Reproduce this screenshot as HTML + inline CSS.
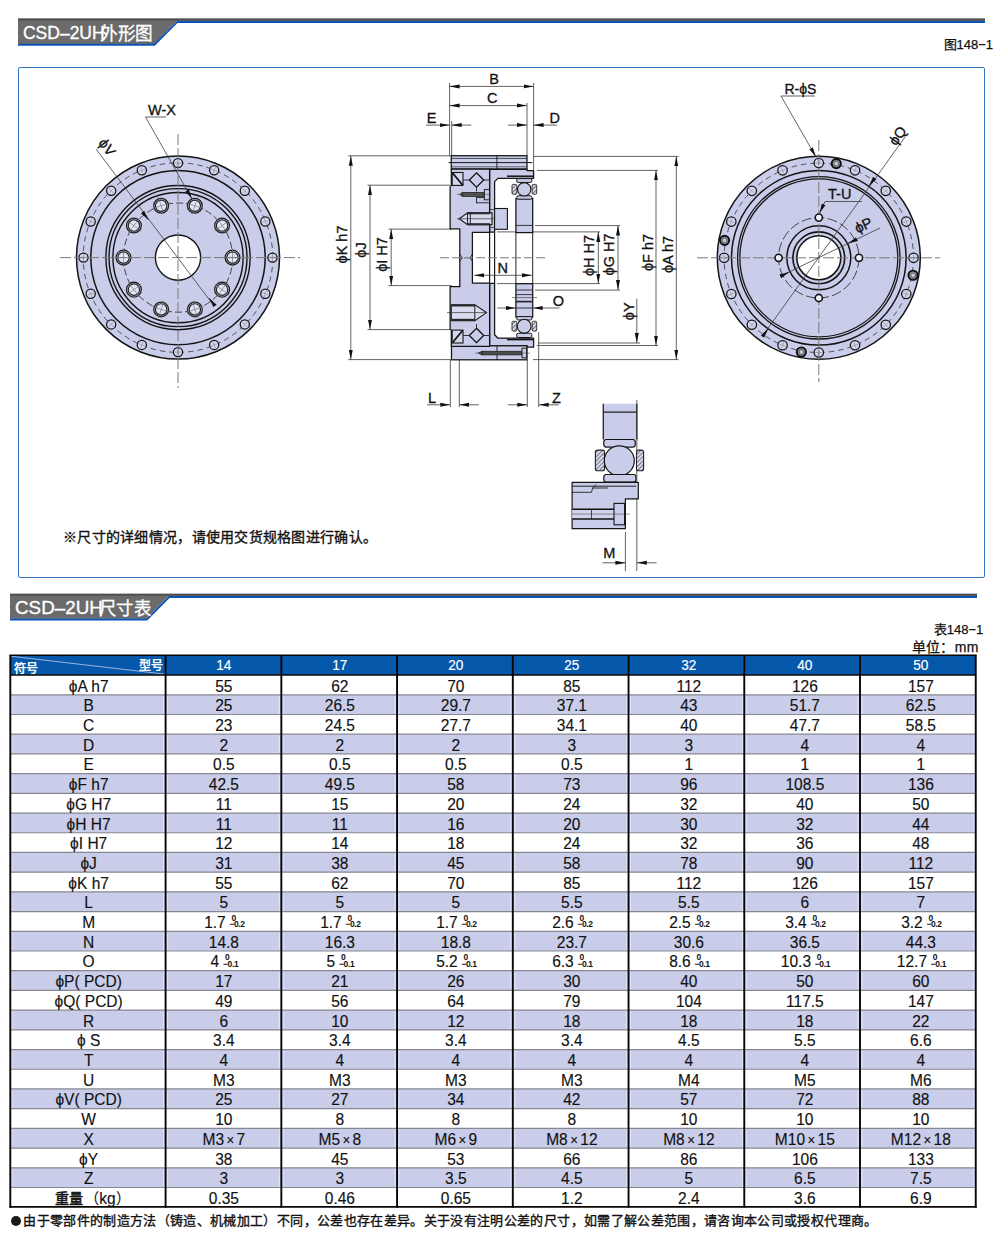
<!DOCTYPE html>
<html lang="zh-CN"><head><meta charset="utf-8"><style>
*{margin:0;padding:0;box-sizing:border-box}
html,body{width:1000px;height:1247px;background:#fff;overflow:hidden}
body{position:relative;font-family:"Liberation Sans",sans-serif;color:#111}
.abs{position:absolute}
.hd{position:absolute;color:#fff;font-size:19px;white-space:nowrap;line-height:1}
.cap{position:absolute;font-size:13px;white-space:nowrap;line-height:1;color:#111;-webkit-text-stroke:0.25px #111}
.tb{position:absolute;left:10px;top:655px;width:967px}
.c{position:absolute;text-align:center;font-size:16.5px;line-height:1;white-space:nowrap;-webkit-text-stroke:0.15px #111;transform:scaleX(0.94);transform-origin:50% 50%}
.tol{display:inline-block;position:relative;width:15px;height:12px;margin-left:4px;vertical-align:baseline}
.tol b{position:absolute;font-size:9px;font-weight:bold;line-height:1;letter-spacing:-0.4px;-webkit-text-stroke:0}
.sup{position:absolute;font-size:8px;font-weight:bold;line-height:1}
</style></head><body>

<svg class="abs" style="left:0;top:0" width="1000" height="1247" viewBox="0 0 1000 1247">
<polygon points="18,18.6 985,18.6 985,20.900000000000002 176.5,20.900000000000002 154,44.0 18,44.0" fill="#6b6b6b"/>
<rect x="18" y="18.6" width="967" height="1.8" fill="#4f4d4d"/>
<polyline points="18,44.8 154.4,44.8 177.2,21.900000000000002 985,21.900000000000002" fill="none" stroke="#0b54b4" stroke-width="2"/>
</svg>
<div class="hd" style="left:22.8px;top:22.9px;transform:scaleX(0.92);transform-origin:0 0;-webkit-text-stroke:0.35px #fff">CSD–2UH</div>
<div class="hd" style="left:99.6px;top:25.3px;font-size:18px;letter-spacing:0;transform:scaleX(0.98);transform-origin:0 0;-webkit-text-stroke:0.3px #fff">外形图</div>
<svg class="abs" style="left:0;top:0" width="1000" height="1247" viewBox="0 0 1000 1247">
<polygon points="10,593.8 977,593.8 977,596.0999999999999 168.4,596.0999999999999 146.4,618.8 10,618.8" fill="#6b6b6b"/>
<rect x="10" y="593.8" width="967" height="1.8" fill="#4f4d4d"/>
<polyline points="10,619.5999999999999 146.8,619.5999999999999 169.1,597.0999999999999 977,597.0999999999999" fill="none" stroke="#0b54b4" stroke-width="2"/>
</svg>
<div class="hd" style="left:14.6px;top:597.8px;transform:scaleX(0.99);transform-origin:0 0;-webkit-text-stroke:0.35px #fff">CSD–2UH</div>
<div class="hd" style="left:98.8px;top:600.1px;font-size:18px;letter-spacing:0;transform:scaleX(0.965);transform-origin:0 0;-webkit-text-stroke:0.3px #fff">尺寸表</div>
<div class="cap" style="left:943.5px;top:38.3px">图148−1</div>
<div class="cap" style="left:933.8px;top:623px">表148−1</div>
<div class="cap" style="left:911.5px;top:639.5px;font-size:14px;letter-spacing:0.4px">单位：mm</div>
<div class="abs" style="left:18px;top:66.8px;width:967.3px;height:511.5px;border:1.75px solid #3376c8;border-radius:2px"></div>
<div class="abs" style="left:63px;top:530.2px;font-size:14px;letter-spacing:0.28px;-webkit-text-stroke:0.35px #111;white-space:nowrap;line-height:1">※尺寸的详细情况，请使用交货规格图进行确认。</div>
<svg class="abs" style="left:0;top:0" width="1000" height="1247" viewBox="0 0 1000 1247">
<rect x="10.3" y="655.3" width="965.45" height="19.600000000000023" fill="#0558aa"/>
<line x1="11.3" y1="656.3" x2="165.6" y2="674.3" stroke="#9fb3dd" stroke-width="1.1"/>
<rect x="10.3" y="694.81" width="965.45" height="19.71" fill="#c9cde9"/>
<rect x="10.3" y="734.22" width="965.45" height="19.71" fill="#c9cde9"/>
<rect x="10.3" y="773.64" width="965.45" height="19.71" fill="#c9cde9"/>
<rect x="10.3" y="813.06" width="965.45" height="19.71" fill="#c9cde9"/>
<rect x="10.3" y="852.47" width="965.45" height="19.71" fill="#c9cde9"/>
<rect x="10.3" y="891.89" width="965.45" height="19.71" fill="#c9cde9"/>
<rect x="10.3" y="931.30" width="965.45" height="19.71" fill="#c9cde9"/>
<rect x="10.3" y="970.72" width="965.45" height="19.71" fill="#c9cde9"/>
<rect x="10.3" y="1010.14" width="965.45" height="19.71" fill="#c9cde9"/>
<rect x="10.3" y="1049.55" width="965.45" height="19.71" fill="#c9cde9"/>
<rect x="10.3" y="1088.97" width="965.45" height="19.71" fill="#c9cde9"/>
<rect x="10.3" y="1128.38" width="965.45" height="19.71" fill="#c9cde9"/>
<rect x="10.3" y="1167.80" width="965.45" height="19.71" fill="#c9cde9"/>
<path d="M12.20,695.41V713.92M163.70,695.41V713.92M167.50,695.41V713.92M279.44,695.41V713.92M283.23,695.41V713.92M395.17,695.41V713.92M398.97,695.41V713.92M510.90,695.41V713.92M514.70,695.41V713.92M626.64,695.41V713.92M630.44,695.41V713.92M742.38,695.41V713.92M746.17,695.41V713.92M858.11,695.41V713.92M861.91,695.41V713.92M973.85,695.41V713.92M12.20,734.82V753.33M163.70,734.82V753.33M167.50,734.82V753.33M279.44,734.82V753.33M283.23,734.82V753.33M395.17,734.82V753.33M398.97,734.82V753.33M510.90,734.82V753.33M514.70,734.82V753.33M626.64,734.82V753.33M630.44,734.82V753.33M742.38,734.82V753.33M746.17,734.82V753.33M858.11,734.82V753.33M861.91,734.82V753.33M973.85,734.82V753.33M12.20,774.24V792.75M163.70,774.24V792.75M167.50,774.24V792.75M279.44,774.24V792.75M283.23,774.24V792.75M395.17,774.24V792.75M398.97,774.24V792.75M510.90,774.24V792.75M514.70,774.24V792.75M626.64,774.24V792.75M630.44,774.24V792.75M742.38,774.24V792.75M746.17,774.24V792.75M858.11,774.24V792.75M861.91,774.24V792.75M973.85,774.24V792.75M12.20,813.66V832.16M163.70,813.66V832.16M167.50,813.66V832.16M279.44,813.66V832.16M283.23,813.66V832.16M395.17,813.66V832.16M398.97,813.66V832.16M510.90,813.66V832.16M514.70,813.66V832.16M626.64,813.66V832.16M630.44,813.66V832.16M742.38,813.66V832.16M746.17,813.66V832.16M858.11,813.66V832.16M861.91,813.66V832.16M973.85,813.66V832.16M12.20,853.07V871.58M163.70,853.07V871.58M167.50,853.07V871.58M279.44,853.07V871.58M283.23,853.07V871.58M395.17,853.07V871.58M398.97,853.07V871.58M510.90,853.07V871.58M514.70,853.07V871.58M626.64,853.07V871.58M630.44,853.07V871.58M742.38,853.07V871.58M746.17,853.07V871.58M858.11,853.07V871.58M861.91,853.07V871.58M973.85,853.07V871.58M12.20,892.49V911.00M163.70,892.49V911.00M167.50,892.49V911.00M279.44,892.49V911.00M283.23,892.49V911.00M395.17,892.49V911.00M398.97,892.49V911.00M510.90,892.49V911.00M514.70,892.49V911.00M626.64,892.49V911.00M630.44,892.49V911.00M742.38,892.49V911.00M746.17,892.49V911.00M858.11,892.49V911.00M861.91,892.49V911.00M973.85,892.49V911.00M12.20,931.90V950.41M163.70,931.90V950.41M167.50,931.90V950.41M279.44,931.90V950.41M283.23,931.90V950.41M395.17,931.90V950.41M398.97,931.90V950.41M510.90,931.90V950.41M514.70,931.90V950.41M626.64,931.90V950.41M630.44,931.90V950.41M742.38,931.90V950.41M746.17,931.90V950.41M858.11,931.90V950.41M861.91,931.90V950.41M973.85,931.90V950.41M12.20,971.32V989.83M163.70,971.32V989.83M167.50,971.32V989.83M279.44,971.32V989.83M283.23,971.32V989.83M395.17,971.32V989.83M398.97,971.32V989.83M510.90,971.32V989.83M514.70,971.32V989.83M626.64,971.32V989.83M630.44,971.32V989.83M742.38,971.32V989.83M746.17,971.32V989.83M858.11,971.32V989.83M861.91,971.32V989.83M973.85,971.32V989.83M12.20,1010.74V1029.24M163.70,1010.74V1029.24M167.50,1010.74V1029.24M279.44,1010.74V1029.24M283.23,1010.74V1029.24M395.17,1010.74V1029.24M398.97,1010.74V1029.24M510.90,1010.74V1029.24M514.70,1010.74V1029.24M626.64,1010.74V1029.24M630.44,1010.74V1029.24M742.38,1010.74V1029.24M746.17,1010.74V1029.24M858.11,1010.74V1029.24M861.91,1010.74V1029.24M973.85,1010.74V1029.24M12.20,1050.15V1068.66M163.70,1050.15V1068.66M167.50,1050.15V1068.66M279.44,1050.15V1068.66M283.23,1050.15V1068.66M395.17,1050.15V1068.66M398.97,1050.15V1068.66M510.90,1050.15V1068.66M514.70,1050.15V1068.66M626.64,1050.15V1068.66M630.44,1050.15V1068.66M742.38,1050.15V1068.66M746.17,1050.15V1068.66M858.11,1050.15V1068.66M861.91,1050.15V1068.66M973.85,1050.15V1068.66M12.20,1089.57V1108.08M163.70,1089.57V1108.08M167.50,1089.57V1108.08M279.44,1089.57V1108.08M283.23,1089.57V1108.08M395.17,1089.57V1108.08M398.97,1089.57V1108.08M510.90,1089.57V1108.08M514.70,1089.57V1108.08M626.64,1089.57V1108.08M630.44,1089.57V1108.08M742.38,1089.57V1108.08M746.17,1089.57V1108.08M858.11,1089.57V1108.08M861.91,1089.57V1108.08M973.85,1089.57V1108.08M12.20,1128.98V1147.49M163.70,1128.98V1147.49M167.50,1128.98V1147.49M279.44,1128.98V1147.49M283.23,1128.98V1147.49M395.17,1128.98V1147.49M398.97,1128.98V1147.49M510.90,1128.98V1147.49M514.70,1128.98V1147.49M626.64,1128.98V1147.49M630.44,1128.98V1147.49M742.38,1128.98V1147.49M746.17,1128.98V1147.49M858.11,1128.98V1147.49M861.91,1128.98V1147.49M973.85,1128.98V1147.49M12.20,1168.40V1186.91M163.70,1168.40V1186.91M167.50,1168.40V1186.91M279.44,1168.40V1186.91M283.23,1168.40V1186.91M395.17,1168.40V1186.91M398.97,1168.40V1186.91M510.90,1168.40V1186.91M514.70,1168.40V1186.91M626.64,1168.40V1186.91M630.44,1168.40V1186.91M742.38,1168.40V1186.91M746.17,1168.40V1186.91M858.11,1168.40V1186.91M861.91,1168.40V1186.91M973.85,1168.40V1186.91" stroke="#dde1fa" stroke-width="1.2" fill="none"/>
<line x1="10.3" y1="694.81" x2="975.75" y2="694.81" stroke="#878792" stroke-width="1.2"/>
<line x1="10.3" y1="714.52" x2="975.75" y2="714.52" stroke="#878792" stroke-width="1.2"/>
<line x1="10.3" y1="734.22" x2="975.75" y2="734.22" stroke="#878792" stroke-width="1.2"/>
<line x1="10.3" y1="753.93" x2="975.75" y2="753.93" stroke="#878792" stroke-width="1.2"/>
<line x1="10.3" y1="773.64" x2="975.75" y2="773.64" stroke="#878792" stroke-width="1.2"/>
<line x1="10.3" y1="793.35" x2="975.75" y2="793.35" stroke="#878792" stroke-width="1.2"/>
<line x1="10.3" y1="813.06" x2="975.75" y2="813.06" stroke="#878792" stroke-width="1.2"/>
<line x1="10.3" y1="832.76" x2="975.75" y2="832.76" stroke="#878792" stroke-width="1.2"/>
<line x1="10.3" y1="852.47" x2="975.75" y2="852.47" stroke="#878792" stroke-width="1.2"/>
<line x1="10.3" y1="872.18" x2="975.75" y2="872.18" stroke="#878792" stroke-width="1.2"/>
<line x1="10.3" y1="891.89" x2="975.75" y2="891.89" stroke="#878792" stroke-width="1.2"/>
<line x1="10.3" y1="911.60" x2="975.75" y2="911.60" stroke="#878792" stroke-width="1.2"/>
<line x1="10.3" y1="931.30" x2="975.75" y2="931.30" stroke="#878792" stroke-width="1.2"/>
<line x1="10.3" y1="951.01" x2="975.75" y2="951.01" stroke="#878792" stroke-width="1.2"/>
<line x1="10.3" y1="970.72" x2="975.75" y2="970.72" stroke="#878792" stroke-width="1.2"/>
<line x1="10.3" y1="990.43" x2="975.75" y2="990.43" stroke="#878792" stroke-width="1.2"/>
<line x1="10.3" y1="1010.14" x2="975.75" y2="1010.14" stroke="#878792" stroke-width="1.2"/>
<line x1="10.3" y1="1029.84" x2="975.75" y2="1029.84" stroke="#878792" stroke-width="1.2"/>
<line x1="10.3" y1="1049.55" x2="975.75" y2="1049.55" stroke="#878792" stroke-width="1.2"/>
<line x1="10.3" y1="1069.26" x2="975.75" y2="1069.26" stroke="#878792" stroke-width="1.2"/>
<line x1="10.3" y1="1088.97" x2="975.75" y2="1088.97" stroke="#878792" stroke-width="1.2"/>
<line x1="10.3" y1="1108.68" x2="975.75" y2="1108.68" stroke="#878792" stroke-width="1.2"/>
<line x1="10.3" y1="1128.38" x2="975.75" y2="1128.38" stroke="#878792" stroke-width="1.2"/>
<line x1="10.3" y1="1148.09" x2="975.75" y2="1148.09" stroke="#878792" stroke-width="1.2"/>
<line x1="10.3" y1="1167.80" x2="975.75" y2="1167.80" stroke="#878792" stroke-width="1.2"/>
<line x1="10.3" y1="1187.51" x2="975.75" y2="1187.51" stroke="#878792" stroke-width="1.2"/>
<line x1="10.3" y1="674.9" x2="975.75" y2="674.9" stroke="#0a0505" stroke-width="1.5"/>
<line x1="9.5" y1="655.3" x2="976.65" y2="655.3" stroke="#0a0505" stroke-width="1.4"/>
<line x1="9.5" y1="1206.916" x2="976.65" y2="1206.916" stroke="#0a0505" stroke-width="1.6"/>
<line x1="10.3" y1="655.3" x2="10.3" y2="1207.716" stroke="#0a0505" stroke-width="1.9"/>
<line x1="165.6" y1="655.3" x2="165.6" y2="1207.716" stroke="#0a0505" stroke-width="1.9"/>
<line x1="281.335" y1="655.3" x2="281.335" y2="1207.716" stroke="#0a0505" stroke-width="1.9"/>
<line x1="397.07" y1="655.3" x2="397.07" y2="1207.716" stroke="#0a0505" stroke-width="1.9"/>
<line x1="512.805" y1="655.3" x2="512.805" y2="1207.716" stroke="#0a0505" stroke-width="1.9"/>
<line x1="628.54" y1="655.3" x2="628.54" y2="1207.716" stroke="#0a0505" stroke-width="1.9"/>
<line x1="744.275" y1="655.3" x2="744.275" y2="1207.716" stroke="#0a0505" stroke-width="1.9"/>
<line x1="860.01" y1="655.3" x2="860.01" y2="1207.716" stroke="#0a0505" stroke-width="1.9"/>
<line x1="975.75" y1="655.3" x2="975.75" y2="1207.716" stroke="#0a0505" stroke-width="1.9"/>
</svg>
<div class="abs" style="left:14px;top:662.5px;color:#fff;font-size:12px;-webkit-text-stroke:0.45px #fff;line-height:1">符号</div>
<div class="abs" style="left:139px;top:659.5px;color:#fff;font-size:12px;-webkit-text-stroke:0.45px #fff;line-height:1">型号</div>
<div class="c" style="left:166.10px;width:115.73px;top:658px;color:#fff;font-size:14.5px;-webkit-text-stroke:0.15px #fff">14</div>
<div class="c" style="left:282.13px;width:115.74px;top:658px;color:#fff;font-size:14.5px;-webkit-text-stroke:0.15px #fff">17</div>
<div class="c" style="left:398.17px;width:115.73px;top:658px;color:#fff;font-size:14.5px;-webkit-text-stroke:0.15px #fff">20</div>
<div class="c" style="left:514.10px;width:115.74px;top:658px;color:#fff;font-size:14.5px;-webkit-text-stroke:0.15px #fff">25</div>
<div class="c" style="left:630.74px;width:115.74px;top:658px;color:#fff;font-size:14.5px;-webkit-text-stroke:0.15px #fff">32</div>
<div class="c" style="left:747.17px;width:115.74px;top:658px;color:#fff;font-size:14.5px;-webkit-text-stroke:0.15px #fff">40</div>
<div class="c" style="left:862.91px;width:115.74px;top:658px;color:#fff;font-size:14.5px;-webkit-text-stroke:0.15px #fff">50</div>
<div class="c" style="left:10.9px;width:155.30px;top:677.5px">ϕA h7</div>
<div class="c" style="left:166.1px;width:115.73px;top:677.5px">55</div>
<div class="c" style="left:282.13px;width:115.74px;top:677.5px">62</div>
<div class="c" style="left:398.17px;width:115.73px;top:677.5px">70</div>
<div class="c" style="left:514.1px;width:115.74px;top:677.5px">85</div>
<div class="c" style="left:630.74px;width:115.74px;top:677.5px">112</div>
<div class="c" style="left:747.17px;width:115.74px;top:677.5px">126</div>
<div class="c" style="left:862.91px;width:115.74px;top:677.5px">157</div>
<div class="c" style="left:10.9px;width:155.30px;top:697.2px">B</div>
<div class="c" style="left:166.1px;width:115.73px;top:697.2px">25</div>
<div class="c" style="left:282.13px;width:115.74px;top:697.2px">26.5</div>
<div class="c" style="left:398.17px;width:115.73px;top:697.2px">29.7</div>
<div class="c" style="left:514.1px;width:115.74px;top:697.2px">37.1</div>
<div class="c" style="left:630.74px;width:115.74px;top:697.2px">43</div>
<div class="c" style="left:747.17px;width:115.74px;top:697.2px">51.7</div>
<div class="c" style="left:862.91px;width:115.74px;top:697.2px">62.5</div>
<div class="c" style="left:10.9px;width:155.30px;top:716.9px">C</div>
<div class="c" style="left:166.1px;width:115.73px;top:716.9px">23</div>
<div class="c" style="left:282.13px;width:115.74px;top:716.9px">24.5</div>
<div class="c" style="left:398.17px;width:115.73px;top:716.9px">27.7</div>
<div class="c" style="left:514.1px;width:115.74px;top:716.9px">34.1</div>
<div class="c" style="left:630.74px;width:115.74px;top:716.9px">40</div>
<div class="c" style="left:747.17px;width:115.74px;top:716.9px">47.7</div>
<div class="c" style="left:862.91px;width:115.74px;top:716.9px">58.5</div>
<div class="c" style="left:10.9px;width:155.30px;top:736.6px">D</div>
<div class="c" style="left:166.1px;width:115.73px;top:736.6px">2</div>
<div class="c" style="left:282.13px;width:115.74px;top:736.6px">2</div>
<div class="c" style="left:398.17px;width:115.73px;top:736.6px">2</div>
<div class="c" style="left:514.1px;width:115.74px;top:736.6px">3</div>
<div class="c" style="left:630.74px;width:115.74px;top:736.6px">3</div>
<div class="c" style="left:747.17px;width:115.74px;top:736.6px">4</div>
<div class="c" style="left:862.91px;width:115.74px;top:736.6px">4</div>
<div class="c" style="left:10.9px;width:155.30px;top:756.3px">E</div>
<div class="c" style="left:166.1px;width:115.73px;top:756.3px">0.5</div>
<div class="c" style="left:282.13px;width:115.74px;top:756.3px">0.5</div>
<div class="c" style="left:398.17px;width:115.73px;top:756.3px">0.5</div>
<div class="c" style="left:514.1px;width:115.74px;top:756.3px">0.5</div>
<div class="c" style="left:630.74px;width:115.74px;top:756.3px">1</div>
<div class="c" style="left:747.17px;width:115.74px;top:756.3px">1</div>
<div class="c" style="left:862.91px;width:115.74px;top:756.3px">1</div>
<div class="c" style="left:10.9px;width:155.30px;top:776.0px">ϕF h7</div>
<div class="c" style="left:166.1px;width:115.73px;top:776.0px">42.5</div>
<div class="c" style="left:282.13px;width:115.74px;top:776.0px">49.5</div>
<div class="c" style="left:398.17px;width:115.73px;top:776.0px">58</div>
<div class="c" style="left:514.1px;width:115.74px;top:776.0px">73</div>
<div class="c" style="left:630.74px;width:115.74px;top:776.0px">96</div>
<div class="c" style="left:747.17px;width:115.74px;top:776.0px">108.5</div>
<div class="c" style="left:862.91px;width:115.74px;top:776.0px">136</div>
<div class="c" style="left:10.9px;width:155.30px;top:795.7px">ϕG H7</div>
<div class="c" style="left:166.1px;width:115.73px;top:795.7px">11</div>
<div class="c" style="left:282.13px;width:115.74px;top:795.7px">15</div>
<div class="c" style="left:398.17px;width:115.73px;top:795.7px">20</div>
<div class="c" style="left:514.1px;width:115.74px;top:795.7px">24</div>
<div class="c" style="left:630.74px;width:115.74px;top:795.7px">32</div>
<div class="c" style="left:747.17px;width:115.74px;top:795.7px">40</div>
<div class="c" style="left:862.91px;width:115.74px;top:795.7px">50</div>
<div class="c" style="left:10.9px;width:155.30px;top:815.5px">ϕH H7</div>
<div class="c" style="left:166.1px;width:115.73px;top:815.5px">11</div>
<div class="c" style="left:282.13px;width:115.74px;top:815.5px">11</div>
<div class="c" style="left:398.17px;width:115.73px;top:815.5px">16</div>
<div class="c" style="left:514.1px;width:115.74px;top:815.5px">20</div>
<div class="c" style="left:630.74px;width:115.74px;top:815.5px">30</div>
<div class="c" style="left:747.17px;width:115.74px;top:815.5px">32</div>
<div class="c" style="left:862.91px;width:115.74px;top:815.5px">44</div>
<div class="c" style="left:10.9px;width:155.30px;top:835.2px">ϕI H7</div>
<div class="c" style="left:166.1px;width:115.73px;top:835.2px">12</div>
<div class="c" style="left:282.13px;width:115.74px;top:835.2px">14</div>
<div class="c" style="left:398.17px;width:115.73px;top:835.2px">18</div>
<div class="c" style="left:514.1px;width:115.74px;top:835.2px">24</div>
<div class="c" style="left:630.74px;width:115.74px;top:835.2px">32</div>
<div class="c" style="left:747.17px;width:115.74px;top:835.2px">36</div>
<div class="c" style="left:862.91px;width:115.74px;top:835.2px">48</div>
<div class="c" style="left:10.9px;width:155.30px;top:854.9px">ϕJ</div>
<div class="c" style="left:166.1px;width:115.73px;top:854.9px">31</div>
<div class="c" style="left:282.13px;width:115.74px;top:854.9px">38</div>
<div class="c" style="left:398.17px;width:115.73px;top:854.9px">45</div>
<div class="c" style="left:514.1px;width:115.74px;top:854.9px">58</div>
<div class="c" style="left:630.74px;width:115.74px;top:854.9px">78</div>
<div class="c" style="left:747.17px;width:115.74px;top:854.9px">90</div>
<div class="c" style="left:862.91px;width:115.74px;top:854.9px">112</div>
<div class="c" style="left:10.9px;width:155.30px;top:874.6px">ϕK h7</div>
<div class="c" style="left:166.1px;width:115.73px;top:874.6px">55</div>
<div class="c" style="left:282.13px;width:115.74px;top:874.6px">62</div>
<div class="c" style="left:398.17px;width:115.73px;top:874.6px">70</div>
<div class="c" style="left:514.1px;width:115.74px;top:874.6px">85</div>
<div class="c" style="left:630.74px;width:115.74px;top:874.6px">112</div>
<div class="c" style="left:747.17px;width:115.74px;top:874.6px">126</div>
<div class="c" style="left:862.91px;width:115.74px;top:874.6px">157</div>
<div class="c" style="left:10.9px;width:155.30px;top:894.3px">L</div>
<div class="c" style="left:166.1px;width:115.73px;top:894.3px">5</div>
<div class="c" style="left:282.13px;width:115.74px;top:894.3px">5</div>
<div class="c" style="left:398.17px;width:115.73px;top:894.3px">5</div>
<div class="c" style="left:514.1px;width:115.74px;top:894.3px">5.5</div>
<div class="c" style="left:630.74px;width:115.74px;top:894.3px">5.5</div>
<div class="c" style="left:747.17px;width:115.74px;top:894.3px">6</div>
<div class="c" style="left:862.91px;width:115.74px;top:894.3px">7</div>
<div class="c" style="left:10.9px;width:155.30px;top:914.0px">M</div>
<div class="c" style="left:166.1px;width:115.73px;top:914.0px">1.7<span class="tol"><b style="left:2.2px;top:-2.0px">0</b><b style="left:0;top:4.4px">−0.2</b></span></div>
<div class="c" style="left:282.13px;width:115.74px;top:914.0px">1.7<span class="tol"><b style="left:2.2px;top:-2.0px">0</b><b style="left:0;top:4.4px">−0.2</b></span></div>
<div class="c" style="left:398.17px;width:115.73px;top:914.0px">1.7<span class="tol"><b style="left:2.2px;top:-2.0px">0</b><b style="left:0;top:4.4px">−0.2</b></span></div>
<div class="c" style="left:514.1px;width:115.74px;top:914.0px">2.6<span class="tol"><b style="left:2.2px;top:-2.0px">0</b><b style="left:0;top:4.4px">−0.2</b></span></div>
<div class="c" style="left:630.74px;width:115.74px;top:914.0px">2.5<span class="tol"><b style="left:2.2px;top:-2.0px">0</b><b style="left:0;top:4.4px">−0.2</b></span></div>
<div class="c" style="left:747.17px;width:115.74px;top:914.0px">3.4<span class="tol"><b style="left:2.2px;top:-2.0px">0</b><b style="left:0;top:4.4px">−0.2</b></span></div>
<div class="c" style="left:862.91px;width:115.74px;top:914.0px">3.2<span class="tol"><b style="left:2.2px;top:-2.0px">0</b><b style="left:0;top:4.4px">−0.2</b></span></div>
<div class="c" style="left:10.9px;width:155.30px;top:933.7px">N</div>
<div class="c" style="left:166.1px;width:115.73px;top:933.7px">14.8</div>
<div class="c" style="left:282.13px;width:115.74px;top:933.7px">16.3</div>
<div class="c" style="left:398.17px;width:115.73px;top:933.7px">18.8</div>
<div class="c" style="left:514.1px;width:115.74px;top:933.7px">23.7</div>
<div class="c" style="left:630.74px;width:115.74px;top:933.7px">30.6</div>
<div class="c" style="left:747.17px;width:115.74px;top:933.7px">36.5</div>
<div class="c" style="left:862.91px;width:115.74px;top:933.7px">44.3</div>
<div class="c" style="left:10.9px;width:155.30px;top:953.4px">O</div>
<div class="c" style="left:166.1px;width:115.73px;top:953.4px">4<span class="tol"><b style="left:2.2px;top:-2.0px">0</b><b style="left:0;top:4.4px">−0.1</b></span></div>
<div class="c" style="left:282.13px;width:115.74px;top:953.4px">5<span class="tol"><b style="left:2.2px;top:-2.0px">0</b><b style="left:0;top:4.4px">−0.1</b></span></div>
<div class="c" style="left:398.17px;width:115.73px;top:953.4px">5.2<span class="tol"><b style="left:2.2px;top:-2.0px">0</b><b style="left:0;top:4.4px">−0.1</b></span></div>
<div class="c" style="left:514.1px;width:115.74px;top:953.4px">6.3<span class="tol"><b style="left:2.2px;top:-2.0px">0</b><b style="left:0;top:4.4px">−0.1</b></span></div>
<div class="c" style="left:630.74px;width:115.74px;top:953.4px">8.6<span class="tol"><b style="left:2.2px;top:-2.0px">0</b><b style="left:0;top:4.4px">−0.1</b></span></div>
<div class="c" style="left:747.17px;width:115.74px;top:953.4px">10.3<span class="tol"><b style="left:2.2px;top:-2.0px">0</b><b style="left:0;top:4.4px">−0.1</b></span></div>
<div class="c" style="left:862.91px;width:115.74px;top:953.4px">12.7<span class="tol"><b style="left:2.2px;top:-2.0px">0</b><b style="left:0;top:4.4px">−0.1</b></span></div>
<div class="c" style="left:10.9px;width:155.30px;top:973.1px">ϕP( PCD)</div>
<div class="c" style="left:166.1px;width:115.73px;top:973.1px">17</div>
<div class="c" style="left:282.13px;width:115.74px;top:973.1px">21</div>
<div class="c" style="left:398.17px;width:115.73px;top:973.1px">26</div>
<div class="c" style="left:514.1px;width:115.74px;top:973.1px">30</div>
<div class="c" style="left:630.74px;width:115.74px;top:973.1px">40</div>
<div class="c" style="left:747.17px;width:115.74px;top:973.1px">50</div>
<div class="c" style="left:862.91px;width:115.74px;top:973.1px">60</div>
<div class="c" style="left:10.9px;width:155.30px;top:992.8px">ϕQ( PCD)</div>
<div class="c" style="left:166.1px;width:115.73px;top:992.8px">49</div>
<div class="c" style="left:282.13px;width:115.74px;top:992.8px">56</div>
<div class="c" style="left:398.17px;width:115.73px;top:992.8px">64</div>
<div class="c" style="left:514.1px;width:115.74px;top:992.8px">79</div>
<div class="c" style="left:630.74px;width:115.74px;top:992.8px">104</div>
<div class="c" style="left:747.17px;width:115.74px;top:992.8px">117.5</div>
<div class="c" style="left:862.91px;width:115.74px;top:992.8px">147</div>
<div class="c" style="left:10.9px;width:155.30px;top:1012.5px">R</div>
<div class="c" style="left:166.1px;width:115.73px;top:1012.5px">6</div>
<div class="c" style="left:282.13px;width:115.74px;top:1012.5px">10</div>
<div class="c" style="left:398.17px;width:115.73px;top:1012.5px">12</div>
<div class="c" style="left:514.1px;width:115.74px;top:1012.5px">18</div>
<div class="c" style="left:630.74px;width:115.74px;top:1012.5px">18</div>
<div class="c" style="left:747.17px;width:115.74px;top:1012.5px">18</div>
<div class="c" style="left:862.91px;width:115.74px;top:1012.5px">22</div>
<div class="c" style="left:10.9px;width:155.30px;top:1032.2px">ϕ S</div>
<div class="c" style="left:166.1px;width:115.73px;top:1032.2px">3.4</div>
<div class="c" style="left:282.13px;width:115.74px;top:1032.2px">3.4</div>
<div class="c" style="left:398.17px;width:115.73px;top:1032.2px">3.4</div>
<div class="c" style="left:514.1px;width:115.74px;top:1032.2px">3.4</div>
<div class="c" style="left:630.74px;width:115.74px;top:1032.2px">4.5</div>
<div class="c" style="left:747.17px;width:115.74px;top:1032.2px">5.5</div>
<div class="c" style="left:862.91px;width:115.74px;top:1032.2px">6.6</div>
<div class="c" style="left:10.9px;width:155.30px;top:1052.0px">T</div>
<div class="c" style="left:166.1px;width:115.73px;top:1052.0px">4</div>
<div class="c" style="left:282.13px;width:115.74px;top:1052.0px">4</div>
<div class="c" style="left:398.17px;width:115.73px;top:1052.0px">4</div>
<div class="c" style="left:514.1px;width:115.74px;top:1052.0px">4</div>
<div class="c" style="left:630.74px;width:115.74px;top:1052.0px">4</div>
<div class="c" style="left:747.17px;width:115.74px;top:1052.0px">4</div>
<div class="c" style="left:862.91px;width:115.74px;top:1052.0px">4</div>
<div class="c" style="left:10.9px;width:155.30px;top:1071.7px">U</div>
<div class="c" style="left:166.1px;width:115.73px;top:1071.7px">M3</div>
<div class="c" style="left:282.13px;width:115.74px;top:1071.7px">M3</div>
<div class="c" style="left:398.17px;width:115.73px;top:1071.7px">M3</div>
<div class="c" style="left:514.1px;width:115.74px;top:1071.7px">M3</div>
<div class="c" style="left:630.74px;width:115.74px;top:1071.7px">M4</div>
<div class="c" style="left:747.17px;width:115.74px;top:1071.7px">M5</div>
<div class="c" style="left:862.91px;width:115.74px;top:1071.7px">M6</div>
<div class="c" style="left:10.9px;width:155.30px;top:1091.4px">ϕV( PCD)</div>
<div class="c" style="left:166.1px;width:115.73px;top:1091.4px">25</div>
<div class="c" style="left:282.13px;width:115.74px;top:1091.4px">27</div>
<div class="c" style="left:398.17px;width:115.73px;top:1091.4px">34</div>
<div class="c" style="left:514.1px;width:115.74px;top:1091.4px">42</div>
<div class="c" style="left:630.74px;width:115.74px;top:1091.4px">57</div>
<div class="c" style="left:747.17px;width:115.74px;top:1091.4px">72</div>
<div class="c" style="left:862.91px;width:115.74px;top:1091.4px">88</div>
<div class="c" style="left:10.9px;width:155.30px;top:1111.1px">W</div>
<div class="c" style="left:166.1px;width:115.73px;top:1111.1px">10</div>
<div class="c" style="left:282.13px;width:115.74px;top:1111.1px">8</div>
<div class="c" style="left:398.17px;width:115.73px;top:1111.1px">8</div>
<div class="c" style="left:514.1px;width:115.74px;top:1111.1px">8</div>
<div class="c" style="left:630.74px;width:115.74px;top:1111.1px">10</div>
<div class="c" style="left:747.17px;width:115.74px;top:1111.1px">10</div>
<div class="c" style="left:862.91px;width:115.74px;top:1111.1px">10</div>
<div class="c" style="left:10.9px;width:155.30px;top:1130.8px">X</div>
<div class="c" style="left:166.1px;width:115.73px;top:1130.8px">M3<span style="margin:0 2.6px;font-size:14px">×</span>7</div>
<div class="c" style="left:282.13px;width:115.74px;top:1130.8px">M5<span style="margin:0 2.6px;font-size:14px">×</span>8</div>
<div class="c" style="left:398.17px;width:115.73px;top:1130.8px">M6<span style="margin:0 2.6px;font-size:14px">×</span>9</div>
<div class="c" style="left:514.1px;width:115.74px;top:1130.8px">M8<span style="margin:0 2.6px;font-size:14px">×</span>12</div>
<div class="c" style="left:630.74px;width:115.74px;top:1130.8px">M8<span style="margin:0 2.6px;font-size:14px">×</span>12</div>
<div class="c" style="left:747.17px;width:115.74px;top:1130.8px">M10<span style="margin:0 2.6px;font-size:14px">×</span>15</div>
<div class="c" style="left:862.91px;width:115.74px;top:1130.8px">M12<span style="margin:0 2.6px;font-size:14px">×</span>18</div>
<div class="c" style="left:10.9px;width:155.30px;top:1150.5px">ϕY</div>
<div class="c" style="left:166.1px;width:115.73px;top:1150.5px">38</div>
<div class="c" style="left:282.13px;width:115.74px;top:1150.5px">45</div>
<div class="c" style="left:398.17px;width:115.73px;top:1150.5px">53</div>
<div class="c" style="left:514.1px;width:115.74px;top:1150.5px">66</div>
<div class="c" style="left:630.74px;width:115.74px;top:1150.5px">86</div>
<div class="c" style="left:747.17px;width:115.74px;top:1150.5px">106</div>
<div class="c" style="left:862.91px;width:115.74px;top:1150.5px">133</div>
<div class="c" style="left:10.9px;width:155.30px;top:1170.2px">Z</div>
<div class="c" style="left:166.1px;width:115.73px;top:1170.2px">3</div>
<div class="c" style="left:282.13px;width:115.74px;top:1170.2px">3</div>
<div class="c" style="left:398.17px;width:115.73px;top:1170.2px">3.5</div>
<div class="c" style="left:514.1px;width:115.74px;top:1170.2px">4.5</div>
<div class="c" style="left:630.74px;width:115.74px;top:1170.2px">5</div>
<div class="c" style="left:747.17px;width:115.74px;top:1170.2px">6.5</div>
<div class="c" style="left:862.91px;width:115.74px;top:1170.2px">7.5</div>
<div class="c" style="left:10.9px;width:155.30px;top:1189.9px"><span style="font-size:15px;-webkit-text-stroke:0.5px #111;margin-left:8px;margin-right:2px">重量</span><span style="font-size:15px">（</span>kg<span style="font-size:15px">）</span></div>
<div class="c" style="left:166.1px;width:115.73px;top:1189.9px">0.35</div>
<div class="c" style="left:282.13px;width:115.74px;top:1189.9px">0.46</div>
<div class="c" style="left:398.17px;width:115.73px;top:1189.9px">0.65</div>
<div class="c" style="left:514.1px;width:115.74px;top:1189.9px">1.2</div>
<div class="c" style="left:630.74px;width:115.74px;top:1189.9px">2.4</div>
<div class="c" style="left:747.17px;width:115.74px;top:1189.9px">3.6</div>
<div class="c" style="left:862.91px;width:115.74px;top:1189.9px">6.9</div>
<div class="abs" style="left:10px;top:1213.5px;font-size:13px;letter-spacing:0.35px;white-space:nowrap;line-height:1;-webkit-text-stroke:0.35px #111"><span style="display:inline-block;width:10px;height:10px;border-radius:50%;background:#1a1a1a;margin-left:1px;margin-right:2.2px;vertical-align:-1px"></span>由于零部件的制造方法（铸造、机械加工）不同，公差也存在差异。关于没有注明公差的尺寸，如需了解公差范围，请咨询本公司或授权代理商。</div>
<svg class="abs" style="left:0;top:0" width="1000" height="600" viewBox="0 0 1000 600" font-family="Liberation Sans, sans-serif">
<defs><marker id="ar" viewBox="0 0 10 6" refX="10" refY="3" markerWidth="10" markerHeight="6" markerUnits="userSpaceOnUse" orient="auto-start-reverse"><path d="M0,1.0 L10,3 L0,5.0 z" fill="#111"/></marker><pattern id="hat" width="3" height="3" patternUnits="userSpaceOnUse" patternTransform="rotate(45)"><rect width="3" height="3" fill="#d8dbef"/><line x1="0" y1="0" x2="0" y2="3" stroke="#222" stroke-width="1.1"/></pattern></defs>
<circle cx="178.00" cy="257.60" r="101.50" fill="#c9cde9" stroke="#141414" stroke-width="1.5" />
<circle cx="178.00" cy="257.60" r="94.80" fill="none" stroke="#333" stroke-width="0.8" stroke-dasharray="5.5 4"/>
<circle cx="178.00" cy="257.60" r="87.20" fill="none" stroke="#141414" stroke-width="1.5" />
<circle cx="178.00" cy="257.60" r="72.10" fill="none" stroke="#141414" stroke-width="1.4" />
<circle cx="178.00" cy="257.60" r="69.00" fill="none" stroke="#141414" stroke-width="1.4" />
<circle cx="178.00" cy="257.60" r="65.10" fill="none" stroke="#141414" stroke-width="1.4" />
<circle cx="178.00" cy="257.60" r="54.60" fill="none" stroke="#333" stroke-width="0.9" stroke-dasharray="7 3.2"/>
<circle cx="178.00" cy="163.10" r="4.60" fill="#d2d5ee" stroke="#141414" stroke-width="1.25" />
<line x1="174.60" y1="163.10" x2="181.40" y2="163.10" stroke="#888" stroke-width="0.6" />
<line x1="178.00" y1="159.70" x2="178.00" y2="166.50" stroke="#888" stroke-width="0.6" />
<circle cx="214.16" cy="170.29" r="4.60" fill="#d2d5ee" stroke="#141414" stroke-width="1.25" />
<line x1="211.02" y1="168.99" x2="217.30" y2="171.59" stroke="#888" stroke-width="0.6" />
<line x1="215.46" y1="167.15" x2="212.86" y2="173.43" stroke="#888" stroke-width="0.6" />
<circle cx="244.82" cy="190.78" r="4.60" fill="#d2d5ee" stroke="#141414" stroke-width="1.25" />
<line x1="242.42" y1="188.37" x2="247.23" y2="193.18" stroke="#888" stroke-width="0.6" />
<line x1="247.23" y1="188.37" x2="242.42" y2="193.18" stroke="#888" stroke-width="0.6" />
<circle cx="265.31" cy="221.44" r="4.60" fill="#d2d5ee" stroke="#141414" stroke-width="1.25" />
<line x1="264.01" y1="218.30" x2="266.61" y2="224.58" stroke="#888" stroke-width="0.6" />
<line x1="268.45" y1="220.14" x2="262.17" y2="222.74" stroke="#888" stroke-width="0.6" />
<circle cx="272.50" cy="257.60" r="4.60" fill="#d2d5ee" stroke="#141414" stroke-width="1.25" />
<line x1="272.50" y1="254.20" x2="272.50" y2="261.00" stroke="#888" stroke-width="0.6" />
<line x1="275.90" y1="257.60" x2="269.10" y2="257.60" stroke="#888" stroke-width="0.6" />
<circle cx="265.31" cy="293.76" r="4.60" fill="#d2d5ee" stroke="#141414" stroke-width="1.25" />
<line x1="266.61" y1="290.62" x2="264.01" y2="296.90" stroke="#888" stroke-width="0.6" />
<line x1="268.45" y1="295.06" x2="262.17" y2="292.46" stroke="#888" stroke-width="0.6" />
<circle cx="244.82" cy="324.42" r="4.60" fill="#d2d5ee" stroke="#141414" stroke-width="1.25" />
<line x1="247.23" y1="322.02" x2="242.42" y2="326.83" stroke="#888" stroke-width="0.6" />
<line x1="247.23" y1="326.83" x2="242.42" y2="322.02" stroke="#888" stroke-width="0.6" />
<circle cx="214.16" cy="344.91" r="4.60" fill="#d2d5ee" stroke="#141414" stroke-width="1.25" />
<line x1="217.30" y1="343.61" x2="211.02" y2="346.21" stroke="#888" stroke-width="0.6" />
<line x1="215.46" y1="348.05" x2="212.86" y2="341.77" stroke="#888" stroke-width="0.6" />
<circle cx="178.00" cy="352.10" r="4.60" fill="#d2d5ee" stroke="#141414" stroke-width="1.25" />
<line x1="181.40" y1="352.10" x2="174.60" y2="352.10" stroke="#888" stroke-width="0.6" />
<line x1="178.00" y1="355.50" x2="178.00" y2="348.70" stroke="#888" stroke-width="0.6" />
<circle cx="141.84" cy="344.91" r="4.60" fill="#d2d5ee" stroke="#141414" stroke-width="1.25" />
<line x1="144.98" y1="346.21" x2="138.70" y2="343.61" stroke="#888" stroke-width="0.6" />
<line x1="140.54" y1="348.05" x2="143.14" y2="341.77" stroke="#888" stroke-width="0.6" />
<circle cx="111.18" cy="324.42" r="4.60" fill="#d2d5ee" stroke="#141414" stroke-width="1.25" />
<line x1="113.58" y1="326.83" x2="108.77" y2="322.02" stroke="#888" stroke-width="0.6" />
<line x1="108.77" y1="326.83" x2="113.58" y2="322.02" stroke="#888" stroke-width="0.6" />
<circle cx="90.69" cy="293.76" r="4.60" fill="#d2d5ee" stroke="#141414" stroke-width="1.25" />
<line x1="91.99" y1="296.90" x2="89.39" y2="290.62" stroke="#888" stroke-width="0.6" />
<line x1="87.55" y1="295.06" x2="93.83" y2="292.46" stroke="#888" stroke-width="0.6" />
<circle cx="83.50" cy="257.60" r="4.60" fill="#d2d5ee" stroke="#141414" stroke-width="1.25" />
<line x1="83.50" y1="261.00" x2="83.50" y2="254.20" stroke="#888" stroke-width="0.6" />
<line x1="80.10" y1="257.60" x2="86.90" y2="257.60" stroke="#888" stroke-width="0.6" />
<circle cx="90.69" cy="221.44" r="4.60" fill="#d2d5ee" stroke="#141414" stroke-width="1.25" />
<line x1="89.39" y1="224.58" x2="91.99" y2="218.30" stroke="#888" stroke-width="0.6" />
<line x1="87.55" y1="220.14" x2="93.83" y2="222.74" stroke="#888" stroke-width="0.6" />
<circle cx="111.18" cy="190.78" r="4.60" fill="#d2d5ee" stroke="#141414" stroke-width="1.25" />
<line x1="108.77" y1="193.18" x2="113.58" y2="188.37" stroke="#888" stroke-width="0.6" />
<line x1="108.77" y1="188.37" x2="113.58" y2="193.18" stroke="#888" stroke-width="0.6" />
<circle cx="141.84" cy="170.29" r="4.60" fill="#d2d5ee" stroke="#141414" stroke-width="1.25" />
<line x1="138.70" y1="171.59" x2="144.98" y2="168.99" stroke="#888" stroke-width="0.6" />
<line x1="140.54" y1="167.15" x2="143.14" y2="173.43" stroke="#888" stroke-width="0.6" />
<circle cx="194.84" cy="205.77" r="7.40" fill="#d4d7ef" stroke="#222" stroke-width="1.3" />
<circle cx="194.84" cy="205.77" r="5.70" fill="#e2e5f6" stroke="#222" stroke-width="1.2" />
<line x1="186.28" y1="202.99" x2="203.40" y2="208.55" stroke="#666" stroke-width="0.6" />
<line x1="197.62" y1="197.21" x2="192.06" y2="214.33" stroke="#666" stroke-width="0.6" />
<circle cx="222.09" cy="225.57" r="7.40" fill="#d4d7ef" stroke="#222" stroke-width="1.3" />
<circle cx="222.09" cy="225.57" r="5.70" fill="#e2e5f6" stroke="#222" stroke-width="1.2" />
<line x1="216.80" y1="218.28" x2="227.38" y2="232.85" stroke="#666" stroke-width="0.6" />
<line x1="229.37" y1="220.28" x2="214.81" y2="230.86" stroke="#666" stroke-width="0.6" />
<circle cx="232.50" cy="257.60" r="7.40" fill="#d4d7ef" stroke="#222" stroke-width="1.3" />
<circle cx="232.50" cy="257.60" r="5.70" fill="#e2e5f6" stroke="#222" stroke-width="1.2" />
<line x1="232.50" y1="248.60" x2="232.50" y2="266.60" stroke="#666" stroke-width="0.6" />
<line x1="241.50" y1="257.60" x2="223.50" y2="257.60" stroke="#666" stroke-width="0.6" />
<circle cx="222.09" cy="289.63" r="7.40" fill="#d4d7ef" stroke="#222" stroke-width="1.3" />
<circle cx="222.09" cy="289.63" r="5.70" fill="#e2e5f6" stroke="#222" stroke-width="1.2" />
<line x1="227.38" y1="282.35" x2="216.80" y2="296.92" stroke="#666" stroke-width="0.6" />
<line x1="229.37" y1="294.92" x2="214.81" y2="284.34" stroke="#666" stroke-width="0.6" />
<circle cx="194.84" cy="309.43" r="7.40" fill="#d4d7ef" stroke="#222" stroke-width="1.3" />
<circle cx="194.84" cy="309.43" r="5.70" fill="#e2e5f6" stroke="#222" stroke-width="1.2" />
<line x1="203.40" y1="306.65" x2="186.28" y2="312.21" stroke="#666" stroke-width="0.6" />
<line x1="197.62" y1="317.99" x2="192.06" y2="300.87" stroke="#666" stroke-width="0.6" />
<circle cx="161.16" cy="309.43" r="7.40" fill="#d4d7ef" stroke="#222" stroke-width="1.3" />
<circle cx="161.16" cy="309.43" r="5.70" fill="#e2e5f6" stroke="#222" stroke-width="1.2" />
<line x1="169.72" y1="312.21" x2="152.60" y2="306.65" stroke="#666" stroke-width="0.6" />
<line x1="158.38" y1="317.99" x2="163.94" y2="300.87" stroke="#666" stroke-width="0.6" />
<circle cx="133.91" cy="289.63" r="7.40" fill="#d4d7ef" stroke="#222" stroke-width="1.3" />
<circle cx="133.91" cy="289.63" r="5.70" fill="#e2e5f6" stroke="#222" stroke-width="1.2" />
<line x1="139.20" y1="296.92" x2="128.62" y2="282.35" stroke="#666" stroke-width="0.6" />
<line x1="126.63" y1="294.92" x2="141.19" y2="284.34" stroke="#666" stroke-width="0.6" />
<circle cx="123.50" cy="257.60" r="7.40" fill="#d4d7ef" stroke="#222" stroke-width="1.3" />
<circle cx="123.50" cy="257.60" r="5.70" fill="#e2e5f6" stroke="#222" stroke-width="1.2" />
<line x1="123.50" y1="266.60" x2="123.50" y2="248.60" stroke="#666" stroke-width="0.6" />
<line x1="114.50" y1="257.60" x2="132.50" y2="257.60" stroke="#666" stroke-width="0.6" />
<circle cx="133.91" cy="225.57" r="7.40" fill="#d4d7ef" stroke="#222" stroke-width="1.3" />
<circle cx="133.91" cy="225.57" r="5.70" fill="#e2e5f6" stroke="#222" stroke-width="1.2" />
<line x1="128.62" y1="232.85" x2="139.20" y2="218.28" stroke="#666" stroke-width="0.6" />
<line x1="126.63" y1="220.28" x2="141.19" y2="230.86" stroke="#666" stroke-width="0.6" />
<circle cx="161.16" cy="205.77" r="7.40" fill="#d4d7ef" stroke="#222" stroke-width="1.3" />
<circle cx="161.16" cy="205.77" r="5.70" fill="#e2e5f6" stroke="#222" stroke-width="1.2" />
<line x1="152.60" y1="208.55" x2="169.72" y2="202.99" stroke="#666" stroke-width="0.6" />
<line x1="158.38" y1="197.21" x2="163.94" y2="214.33" stroke="#666" stroke-width="0.6" />
<circle cx="178.00" cy="257.60" r="22.60" fill="#fff" stroke="#141414" stroke-width="1.4" />
<line x1="60.00" y1="257.60" x2="300.00" y2="257.60" stroke="#7a7a7a" stroke-width="1.0" stroke-dasharray="11 3"/>
<line x1="178.00" y1="134.00" x2="178.00" y2="388.00" stroke="#7a7a7a" stroke-width="1.0" stroke-dasharray="11 3"/>
<line x1="96.00" y1="149.00" x2="211.00" y2="302.00" stroke="#3c3c3c" stroke-width="0.8" />
<line x1="144.50" y1="214.70" x2="148.50" y2="220.00" stroke="#3c3c3c" stroke-width="0.8"  marker-end="url(#ar)"/>
<line x1="213.00" y1="303.30" x2="209.00" y2="298.00" stroke="#3c3c3c" stroke-width="0.8"  marker-end="url(#ar)"/>
<text x="97.8" y="143" font-size="14.5" text-anchor="start" fill="#111" stroke="#111" stroke-width="0.3" transform="rotate(53.5 97.8 143)" >ϕV</text>
<line x1="145.50" y1="117.00" x2="166.00" y2="117.00" stroke="#3c3c3c" stroke-width="0.8" />
<line x1="145.50" y1="117.00" x2="192.00" y2="199.00" stroke="#3c3c3c" stroke-width="0.8" marker-end="url(#ar)"/>
<text x="148" y="114.5" font-size="14.5" text-anchor="start" fill="#111" stroke="#111" stroke-width="0.3" >W-X</text>
<circle cx="818.80" cy="257.80" r="101.50" fill="#c9cde9" stroke="#141414" stroke-width="1.5" />
<circle cx="818.80" cy="257.80" r="94.70" fill="none" stroke="#333" stroke-width="0.8" stroke-dasharray="5.5 4"/>
<circle cx="818.80" cy="257.80" r="87.30" fill="none" stroke="#141414" stroke-width="1.5" />
<circle cx="818.80" cy="257.80" r="81.20" fill="none" stroke="#141414" stroke-width="1.3" />
<circle cx="818.80" cy="257.80" r="79.00" fill="none" stroke="#141414" stroke-width="1.3" />
<circle cx="818.80" cy="163.10" r="4.70" fill="#d2d5ee" stroke="#141414" stroke-width="1.25" />
<line x1="815.40" y1="163.10" x2="822.20" y2="163.10" stroke="#888" stroke-width="0.6" />
<line x1="818.80" y1="159.70" x2="818.80" y2="166.50" stroke="#888" stroke-width="0.6" />
<circle cx="855.04" cy="170.31" r="4.70" fill="#d2d5ee" stroke="#141414" stroke-width="1.25" />
<line x1="851.90" y1="169.01" x2="858.18" y2="171.61" stroke="#888" stroke-width="0.6" />
<line x1="856.34" y1="167.17" x2="853.74" y2="173.45" stroke="#888" stroke-width="0.6" />
<circle cx="885.76" cy="190.84" r="4.70" fill="#d2d5ee" stroke="#141414" stroke-width="1.25" />
<line x1="883.36" y1="188.43" x2="888.17" y2="193.24" stroke="#888" stroke-width="0.6" />
<line x1="888.17" y1="188.43" x2="883.36" y2="193.24" stroke="#888" stroke-width="0.6" />
<circle cx="906.29" cy="221.56" r="4.70" fill="#d2d5ee" stroke="#141414" stroke-width="1.25" />
<line x1="904.99" y1="218.42" x2="907.59" y2="224.70" stroke="#888" stroke-width="0.6" />
<line x1="909.43" y1="220.26" x2="903.15" y2="222.86" stroke="#888" stroke-width="0.6" />
<circle cx="913.50" cy="257.80" r="4.70" fill="#d2d5ee" stroke="#141414" stroke-width="1.25" />
<line x1="913.50" y1="254.40" x2="913.50" y2="261.20" stroke="#888" stroke-width="0.6" />
<line x1="916.90" y1="257.80" x2="910.10" y2="257.80" stroke="#888" stroke-width="0.6" />
<circle cx="906.29" cy="294.04" r="4.70" fill="#d2d5ee" stroke="#141414" stroke-width="1.25" />
<line x1="907.59" y1="290.90" x2="904.99" y2="297.18" stroke="#888" stroke-width="0.6" />
<line x1="909.43" y1="295.34" x2="903.15" y2="292.74" stroke="#888" stroke-width="0.6" />
<circle cx="885.76" cy="324.76" r="4.70" fill="#d2d5ee" stroke="#141414" stroke-width="1.25" />
<line x1="888.17" y1="322.36" x2="883.36" y2="327.17" stroke="#888" stroke-width="0.6" />
<line x1="888.17" y1="327.17" x2="883.36" y2="322.36" stroke="#888" stroke-width="0.6" />
<circle cx="855.04" cy="345.29" r="4.70" fill="#d2d5ee" stroke="#141414" stroke-width="1.25" />
<line x1="858.18" y1="343.99" x2="851.90" y2="346.59" stroke="#888" stroke-width="0.6" />
<line x1="856.34" y1="348.43" x2="853.74" y2="342.15" stroke="#888" stroke-width="0.6" />
<circle cx="818.80" cy="352.50" r="4.70" fill="#d2d5ee" stroke="#141414" stroke-width="1.25" />
<line x1="822.20" y1="352.50" x2="815.40" y2="352.50" stroke="#888" stroke-width="0.6" />
<line x1="818.80" y1="355.90" x2="818.80" y2="349.10" stroke="#888" stroke-width="0.6" />
<circle cx="782.56" cy="345.29" r="4.70" fill="#d2d5ee" stroke="#141414" stroke-width="1.25" />
<line x1="785.70" y1="346.59" x2="779.42" y2="343.99" stroke="#888" stroke-width="0.6" />
<line x1="781.26" y1="348.43" x2="783.86" y2="342.15" stroke="#888" stroke-width="0.6" />
<circle cx="751.84" cy="324.76" r="4.70" fill="#d2d5ee" stroke="#141414" stroke-width="1.25" />
<line x1="754.24" y1="327.17" x2="749.43" y2="322.36" stroke="#888" stroke-width="0.6" />
<line x1="749.43" y1="327.17" x2="754.24" y2="322.36" stroke="#888" stroke-width="0.6" />
<circle cx="731.31" cy="294.04" r="4.70" fill="#d2d5ee" stroke="#141414" stroke-width="1.25" />
<line x1="732.61" y1="297.18" x2="730.01" y2="290.90" stroke="#888" stroke-width="0.6" />
<line x1="728.17" y1="295.34" x2="734.45" y2="292.74" stroke="#888" stroke-width="0.6" />
<circle cx="724.10" cy="257.80" r="4.70" fill="#d2d5ee" stroke="#141414" stroke-width="1.25" />
<line x1="724.10" y1="261.20" x2="724.10" y2="254.40" stroke="#888" stroke-width="0.6" />
<line x1="720.70" y1="257.80" x2="727.50" y2="257.80" stroke="#888" stroke-width="0.6" />
<circle cx="731.31" cy="221.56" r="4.70" fill="#d2d5ee" stroke="#141414" stroke-width="1.25" />
<line x1="730.01" y1="224.70" x2="732.61" y2="218.42" stroke="#888" stroke-width="0.6" />
<line x1="728.17" y1="220.26" x2="734.45" y2="222.86" stroke="#888" stroke-width="0.6" />
<circle cx="751.84" cy="190.84" r="4.70" fill="#d2d5ee" stroke="#141414" stroke-width="1.25" />
<line x1="749.43" y1="193.24" x2="754.24" y2="188.43" stroke="#888" stroke-width="0.6" />
<line x1="749.43" y1="188.43" x2="754.24" y2="193.24" stroke="#888" stroke-width="0.6" />
<circle cx="782.56" cy="170.31" r="4.70" fill="#d2d5ee" stroke="#141414" stroke-width="1.25" />
<line x1="779.42" y1="171.61" x2="785.70" y2="169.01" stroke="#888" stroke-width="0.6" />
<line x1="781.26" y1="167.17" x2="783.86" y2="173.45" stroke="#888" stroke-width="0.6" />
<circle cx="836.26" cy="163.60" r="4.60" fill="#8d8f9c" stroke="#0e0e0e" stroke-width="1.9" />
<circle cx="836.26" cy="163.60" r="2.30" fill="#c9cbd8" stroke="#555" stroke-width="0.8" />
<circle cx="913.00" cy="275.26" r="4.60" fill="#8d8f9c" stroke="#0e0e0e" stroke-width="1.9" />
<circle cx="913.00" cy="275.26" r="2.30" fill="#c9cbd8" stroke="#555" stroke-width="0.8" />
<circle cx="801.34" cy="352.00" r="4.60" fill="#8d8f9c" stroke="#0e0e0e" stroke-width="1.9" />
<circle cx="801.34" cy="352.00" r="2.30" fill="#c9cbd8" stroke="#555" stroke-width="0.8" />
<circle cx="724.60" cy="240.34" r="4.60" fill="#8d8f9c" stroke="#0e0e0e" stroke-width="1.9" />
<circle cx="724.60" cy="240.34" r="2.30" fill="#c9cbd8" stroke="#555" stroke-width="0.8" />
<circle cx="818.80" cy="257.80" r="40.20" fill="none" stroke="#333" stroke-width="0.9" stroke-dasharray="10 3.2"/>
<circle cx="818.80" cy="257.80" r="32.00" fill="none" stroke="#141414" stroke-width="1.5" />
<circle cx="818.80" cy="257.80" r="25.90" fill="none" stroke="#141414" stroke-width="1.6" />
<circle cx="818.80" cy="257.80" r="22.00" fill="#fff" stroke="#141414" stroke-width="1.6" />
<line x1="697.00" y1="257.80" x2="940.00" y2="257.80" stroke="#7a7a7a" stroke-width="1.0" stroke-dasharray="11 3"/>
<line x1="818.80" y1="140.00" x2="818.80" y2="382.00" stroke="#7a7a7a" stroke-width="1.0" stroke-dasharray="11 3"/>
<circle cx="818.80" cy="217.60" r="3.60" fill="#eef0fa" stroke="#141414" stroke-width="1.6" />
<circle cx="818.80" cy="298.00" r="3.60" fill="#eef0fa" stroke="#141414" stroke-width="1.6" />
<circle cx="778.60" cy="257.80" r="3.60" fill="#eef0fa" stroke="#141414" stroke-width="1.6" />
<circle cx="859.00" cy="257.80" r="3.60" fill="#eef0fa" stroke="#141414" stroke-width="1.6" />
<line x1="905.00" y1="137.00" x2="763.50" y2="334.60" stroke="#3c3c3c" stroke-width="0.8" />
<line x1="872.40" y1="181.20" x2="869.00" y2="186.00" stroke="#3c3c3c" stroke-width="0.8"  marker-end="url(#ar)"/>
<line x1="764.90" y1="333.20" x2="768.30" y2="328.40" stroke="#3c3c3c" stroke-width="0.8"  marker-end="url(#ar)"/>
<text x="896" y="146.5" font-size="14.5" text-anchor="start" fill="#111" stroke="#111" stroke-width="0.3" transform="rotate(-54.5 896 146.5)" >ϕQ</text>
<line x1="880.00" y1="228.00" x2="782.00" y2="275.40" stroke="#3c3c3c" stroke-width="0.8" />
<line x1="853.00" y1="241.10" x2="848.00" y2="243.50" stroke="#3c3c3c" stroke-width="0.8"  marker-end="url(#ar)"/>
<line x1="784.30" y1="274.40" x2="789.30" y2="272.00" stroke="#3c3c3c" stroke-width="0.8"  marker-end="url(#ar)"/>
<text x="857.5" y="233.5" font-size="14.5" text-anchor="start" fill="#111" stroke="#111" stroke-width="0.3" transform="rotate(-25 857.5 233.5)" >ϕP</text>
<line x1="825.00" y1="201.50" x2="862.00" y2="201.50" stroke="#3c3c3c" stroke-width="0.8" />
<line x1="825.00" y1="201.50" x2="819.50" y2="213.20" stroke="#3c3c3c" stroke-width="0.8" marker-end="url(#ar)"/>
<text x="828" y="199" font-size="14.5" text-anchor="start" fill="#111" stroke="#111" stroke-width="0.3" >T-U</text>
<line x1="781.00" y1="96.00" x2="815.00" y2="96.00" stroke="#3c3c3c" stroke-width="0.8" />
<line x1="781.00" y1="96.00" x2="816.00" y2="157.00" stroke="#3c3c3c" stroke-width="0.8" marker-end="url(#ar)"/>
<text x="784.5" y="93.5" font-size="14" text-anchor="start" fill="#111" stroke="#111" stroke-width="0.3" >R-ϕS</text>
<line x1="449.60" y1="83.00" x2="449.60" y2="156.00" stroke="#3a3a3a" stroke-width="0.8" />
<line x1="533.60" y1="83.00" x2="533.60" y2="170.00" stroke="#3a3a3a" stroke-width="0.8" />
<line x1="449.60" y1="86.40" x2="533.60" y2="86.40" stroke="#3c3c3c" stroke-width="0.8" marker-start="url(#ar)" marker-end="url(#ar)"/>
<text x="494.2" y="83.8" font-size="14.5" text-anchor="middle" fill="#111" stroke="#111" stroke-width="0.3" >B</text>
<line x1="527.00" y1="103.00" x2="527.00" y2="156.00" stroke="#3a3a3a" stroke-width="0.8" />
<line x1="449.60" y1="105.60" x2="527.00" y2="105.60" stroke="#3c3c3c" stroke-width="0.8" marker-start="url(#ar)" marker-end="url(#ar)"/>
<text x="492.3" y="103.4" font-size="14.5" text-anchor="middle" fill="#111" stroke="#111" stroke-width="0.3" >C</text>
<line x1="451.70" y1="121.00" x2="451.70" y2="156.00" stroke="#3a3a3a" stroke-width="0.8" />
<line x1="426.00" y1="125.10" x2="449.60" y2="125.10" stroke="#3c3c3c" stroke-width="0.8"  marker-end="url(#ar)"/>
<line x1="471.20" y1="125.10" x2="451.70" y2="125.10" stroke="#3c3c3c" stroke-width="0.8"  marker-end="url(#ar)"/>
<text x="431.5" y="123" font-size="14.5" text-anchor="middle" fill="#111" stroke="#111" stroke-width="0.3" >E</text>
<line x1="507.80" y1="125.10" x2="527.00" y2="125.10" stroke="#3c3c3c" stroke-width="0.8"  marker-end="url(#ar)"/>
<line x1="557.00" y1="125.10" x2="533.60" y2="125.10" stroke="#3c3c3c" stroke-width="0.8"  marker-end="url(#ar)"/>
<text x="554.8" y="123" font-size="14.5" text-anchor="middle" fill="#111" stroke="#111" stroke-width="0.3" >D</text>
<line x1="348.30" y1="155.80" x2="452.00" y2="155.80" stroke="#3a3a3a" stroke-width="0.8" />
<line x1="348.30" y1="359.60" x2="452.00" y2="359.60" stroke="#3a3a3a" stroke-width="0.8" />
<line x1="350.80" y1="155.80" x2="350.80" y2="359.60" stroke="#3c3c3c" stroke-width="0.8" marker-start="url(#ar)" marker-end="url(#ar)"/>
<text x="347" y="244.5" font-size="14.5" text-anchor="middle" fill="#111" stroke="#111" stroke-width="0.3" transform="rotate(-90 347 244.5)" >ϕK h7</text>
<line x1="367.50" y1="185.20" x2="450.00" y2="185.20" stroke="#3a3a3a" stroke-width="0.8" />
<line x1="367.50" y1="329.60" x2="450.00" y2="329.60" stroke="#3a3a3a" stroke-width="0.8" />
<line x1="370.00" y1="185.20" x2="370.00" y2="329.60" stroke="#3c3c3c" stroke-width="0.8" marker-start="url(#ar)" marker-end="url(#ar)"/>
<text x="366.3" y="250" font-size="14.5" text-anchor="middle" fill="#111" stroke="#111" stroke-width="0.3" transform="rotate(-90 366.3 250)" >ϕJ</text>
<line x1="388.50" y1="229.10" x2="452.00" y2="229.10" stroke="#3a3a3a" stroke-width="0.8" />
<line x1="388.50" y1="285.60" x2="452.00" y2="285.60" stroke="#3a3a3a" stroke-width="0.8" />
<line x1="391.20" y1="229.10" x2="391.20" y2="285.60" stroke="#3c3c3c" stroke-width="0.8" marker-start="url(#ar)" marker-end="url(#ar)"/>
<text x="386.5" y="254.5" font-size="14.5" text-anchor="middle" fill="#111" stroke="#111" stroke-width="0.3" transform="rotate(-90 386.5 254.5)" >ϕI H7</text>
<line x1="533.00" y1="156.40" x2="678.50" y2="156.40" stroke="#3a3a3a" stroke-width="0.8" />
<line x1="533.00" y1="359.60" x2="678.50" y2="359.60" stroke="#3a3a3a" stroke-width="0.8" />
<line x1="676.30" y1="156.40" x2="676.30" y2="359.60" stroke="#3c3c3c" stroke-width="0.8" marker-start="url(#ar)" marker-end="url(#ar)"/>
<text x="672.5" y="254.5" font-size="14.5" text-anchor="middle" fill="#111" stroke="#111" stroke-width="0.3" transform="rotate(-90 672.5 254.5)" >ϕA h7</text>
<line x1="537.00" y1="170.40" x2="658.00" y2="170.40" stroke="#3a3a3a" stroke-width="0.8" />
<line x1="537.00" y1="345.50" x2="658.00" y2="345.50" stroke="#3a3a3a" stroke-width="0.8" />
<line x1="656.00" y1="170.40" x2="656.00" y2="345.50" stroke="#3c3c3c" stroke-width="0.8" marker-start="url(#ar)" marker-end="url(#ar)"/>
<text x="652.5" y="252.5" font-size="14.5" text-anchor="middle" fill="#111" stroke="#111" stroke-width="0.3" transform="rotate(-90 652.5 252.5)" >ϕF h7</text>
<line x1="535.00" y1="225.60" x2="620.00" y2="225.60" stroke="#3a3a3a" stroke-width="0.8" />
<line x1="535.00" y1="290.10" x2="620.00" y2="290.10" stroke="#3a3a3a" stroke-width="0.8" />
<line x1="618.00" y1="225.60" x2="618.00" y2="290.10" stroke="#3c3c3c" stroke-width="0.8" marker-start="url(#ar)" marker-end="url(#ar)"/>
<text x="613.8" y="254.5" font-size="14.5" text-anchor="middle" fill="#111" stroke="#111" stroke-width="0.3" transform="rotate(-90 613.8 254.5)" >ϕG H7</text>
<line x1="497.00" y1="231.90" x2="600.00" y2="231.90" stroke="#3a3a3a" stroke-width="0.8" />
<line x1="497.00" y1="283.60" x2="600.00" y2="283.60" stroke="#3a3a3a" stroke-width="0.8" />
<line x1="598.30" y1="231.90" x2="598.30" y2="283.60" stroke="#3c3c3c" stroke-width="0.8" marker-start="url(#ar)" marker-end="url(#ar)"/>
<text x="593.5" y="255.5" font-size="14.5" text-anchor="middle" fill="#111" stroke="#111" stroke-width="0.3" transform="rotate(-90 593.5 255.5)" >ϕH H7</text>
<line x1="538.00" y1="343.00" x2="640.00" y2="343.00" stroke="#3a3a3a" stroke-width="0.8" />
<line x1="636.80" y1="298.80" x2="636.80" y2="343.00" stroke="#3c3c3c" stroke-width="0.8"  marker-end="url(#ar)"/>
<text x="633.8" y="311.3" font-size="14.5" text-anchor="middle" fill="#111" stroke="#111" stroke-width="0.3" transform="rotate(-90 633.8 311.3)" >ϕY</text>
<line x1="538.70" y1="332.00" x2="538.70" y2="407.00" stroke="#3a3a3a" stroke-width="0.8" />
<line x1="527.30" y1="360.00" x2="527.30" y2="407.00" stroke="#3a3a3a" stroke-width="0.8" />
<line x1="450.30" y1="360.00" x2="450.30" y2="407.00" stroke="#3a3a3a" stroke-width="0.8" />
<line x1="459.30" y1="285.00" x2="459.30" y2="407.00" stroke="#3a3a3a" stroke-width="0.8" />
<line x1="427.00" y1="404.80" x2="450.30" y2="404.80" stroke="#3c3c3c" stroke-width="0.8"  marker-end="url(#ar)"/>
<line x1="478.90" y1="404.80" x2="459.30" y2="404.80" stroke="#3c3c3c" stroke-width="0.8"  marker-end="url(#ar)"/>
<text x="428" y="402.6" font-size="14.5" text-anchor="start" fill="#111" stroke="#111" stroke-width="0.3" >L</text>
<line x1="507.80" y1="404.80" x2="527.30" y2="404.80" stroke="#3c3c3c" stroke-width="0.8"  marker-end="url(#ar)"/>
<line x1="558.80" y1="404.80" x2="538.70" y2="404.80" stroke="#3c3c3c" stroke-width="0.8"  marker-end="url(#ar)"/>
<text x="552" y="402.6" font-size="14.5" text-anchor="start" fill="#111" stroke="#111" stroke-width="0.3" >Z</text>
<rect x="451.30" y="155.70" width="75.70" height="13.30" rx="0" fill="#c9cde9" stroke="#141414" stroke-width="1.25"/>
<line x1="451.30" y1="158.40" x2="527.00" y2="158.40" stroke="#141414" stroke-width="0.7" />
<line x1="448.60" y1="162.60" x2="532.40" y2="162.60" stroke="#141414" stroke-width="1.0" />
<line x1="451.30" y1="166.80" x2="527.00" y2="166.80" stroke="#141414" stroke-width="0.6" />
<line x1="496.90" y1="155.70" x2="496.90" y2="169.20" stroke="#141414" stroke-width="0.9" />
<polygon points="489.60,169.40 527.00,169.40 527.00,170.50 533.60,170.50 533.60,178.40 497.80,178.40 494.60,181.60 494.60,232.20 489.60,232.20" fill="#c9cde9" stroke="#141414" stroke-width="1.25" stroke-linejoin="round"/>
<line x1="507.00" y1="176.20" x2="534.00" y2="176.20" stroke="#111" stroke-width="1.5" />
<polygon points="489.60,283.40 494.60,283.40 494.60,334.80 497.80,338.00 533.60,338.00 533.60,347.00 527.00,347.00 527.00,345.80 489.60,345.80" fill="#c9cde9" stroke="#141414" stroke-width="1.25" stroke-linejoin="round"/>
<line x1="507.00" y1="339.60" x2="534.00" y2="339.60" stroke="#111" stroke-width="1.5" />
<rect x="451.50" y="345.80" width="75.50" height="14.00" rx="0" fill="#c9cde9" stroke="#141414" stroke-width="1.25"/>
<line x1="497.00" y1="346.00" x2="497.00" y2="360.00" stroke="#141414" stroke-width="0.9" />
<rect x="482" y="351.3" width="40" height="3.6" fill="#555" stroke="#222" stroke-width="0.8"/>
<path d="M482,351.3 L478,353.1 L482,354.9 z" fill="#555" stroke="#222" stroke-width="0.6"/>
<rect x="522.00" y="348.20" width="4.60" height="9.60" rx="0" fill="#c9cde9" stroke="#141414" stroke-width="0.9"/>
<line x1="475.00" y1="353.10" x2="530.00" y2="353.10" stroke="#333" stroke-width="0.5" />
<polygon points="451.30,169.20 489.60,169.20 489.60,232.40 472.40,232.40 472.40,257.75 459.80,257.75 459.80,228.80 450.10,228.80 450.10,186.60 451.30,185.40" fill="#c9cde9" stroke="#141414" stroke-width="1.25" stroke-linejoin="round"/>
<polygon points="451.30,346.30 489.60,346.30 489.60,283.10 472.40,283.10 472.40,257.75 459.80,257.75 459.80,286.70 450.10,286.70 450.10,328.90 451.30,330.10" fill="#c9cde9" stroke="#141414" stroke-width="1.25" stroke-linejoin="round"/>
<rect x="460.4" y="256.75" width="11.4" height="2" fill="#c9cde9"/>
<path d="M459.8,254 L462,257.75 L459.8,261.5 M472.4,254 L470.2,257.75 L472.4,261.5" fill="none" stroke="#222" stroke-width="0.9"/>
<rect x="452.20" y="172.50" width="10.80" height="12.90" rx="0" fill="#d3d6ee" stroke="#141414" stroke-width="1.1"/>
<line x1="452.60" y1="173.00" x2="462.60" y2="185.00" stroke="#111" stroke-width="1.8" />
<rect x="452.20" y="330.10" width="10.80" height="12.90" rx="0" fill="#d3d6ee" stroke="#141414" stroke-width="1.1"/>
<line x1="452.60" y1="342.50" x2="462.60" y2="330.50" stroke="#111" stroke-width="1.8" />
<path d="M476.5,172.8 L483.7,180 L476.5,187.2 L469.3,180 z" fill="#c9cde9" stroke="#111" stroke-width="1.3"/>
<line x1="463.00" y1="180.00" x2="469.30" y2="180.00" stroke="#333" stroke-width="1.0" />
<line x1="483.70" y1="180.00" x2="489.60" y2="180.00" stroke="#333" stroke-width="1.0" />
<line x1="476.50" y1="187.20" x2="476.50" y2="191.40" stroke="#333" stroke-width="1.0" />
<path d="M476.5,328.3 L483.7,335.5 L476.5,342.7 L469.3,335.5 z" fill="#c9cde9" stroke="#111" stroke-width="1.3"/>
<line x1="463.00" y1="335.50" x2="469.30" y2="335.50" stroke="#333" stroke-width="1.0" />
<line x1="483.70" y1="335.50" x2="489.60" y2="335.50" stroke="#333" stroke-width="1.0" />
<line x1="476.50" y1="328.30" x2="476.50" y2="324.10" stroke="#333" stroke-width="1.0" />
<rect x="476.5" y="197.4" width="13" height="5.4" fill="#c3c7e4" stroke="#222" stroke-width="0.9"/>
<rect x="462.3" y="192.4" width="22" height="4" fill="#5a5a5a" stroke="#222" stroke-width="0.8"/>
<path d="M462.3,192.4 L459.6,194.4 L462.3,196.4 z" fill="#5a5a5a" stroke="#222" stroke-width="0.6"/>
<rect x="484.30" y="189.60" width="5.10" height="10.20" rx="0" fill="#c9cde9" stroke="#141414" stroke-width="0.9"/>
<line x1="457.00" y1="194.40" x2="491.00" y2="194.40" stroke="#333" stroke-width="0.5" />
<path d="M467.5,212.9 L492,212.9 L492,224.6 L467.5,224.6 L459.2,218.75 z" fill="#d9dcf1" stroke="#1a1a1a" stroke-width="1.1"/>
<line x1="467.50" y1="213.30" x2="490.00" y2="213.30" stroke="#2a2a2a" stroke-width="2.0" />
<line x1="467.50" y1="224.20" x2="490.00" y2="224.20" stroke="#2a2a2a" stroke-width="2.0" />
<line x1="467.50" y1="212.90" x2="467.50" y2="224.60" stroke="#222" stroke-width="1.0" />
<line x1="470.30" y1="212.90" x2="470.30" y2="224.60" stroke="#222" stroke-width="1.0" />
<line x1="457.00" y1="218.75" x2="497.00" y2="218.75" stroke="#333" stroke-width="0.7" />
<path d="M451.3,304.7 L474.8,304.7 L486.5,312.6 L474.8,320.6 L451.3,320.6 z" fill="#d9dcf1" stroke="#1a1a1a" stroke-width="1.1"/>
<line x1="451.30" y1="305.50" x2="474.80" y2="305.50" stroke="#2a2a2a" stroke-width="2.0" />
<line x1="451.30" y1="319.80" x2="474.80" y2="319.80" stroke="#2a2a2a" stroke-width="2.0" />
<line x1="474.80" y1="304.70" x2="474.80" y2="320.60" stroke="#222" stroke-width="1.0" />
<line x1="447.00" y1="312.60" x2="487.00" y2="312.60" stroke="#333" stroke-width="0.7" />
<line x1="489.60" y1="232.20" x2="489.60" y2="283.40" stroke="#1a1a1a" stroke-width="1.2" />
<line x1="494.60" y1="232.20" x2="494.60" y2="283.40" stroke="#1a1a1a" stroke-width="1.2" />
<rect x="494.60" y="208.50" width="12.80" height="20.80" rx="0" fill="#c9cde9" stroke="#141414" stroke-width="1.1"/>
<line x1="489.60" y1="209.50" x2="494.60" y2="209.50" stroke="#333" stroke-width="0.8" />
<line x1="489.60" y1="227.50" x2="494.60" y2="227.50" stroke="#333" stroke-width="0.8" />
<rect x="515.90" y="198.60" width="16.80" height="34.00" rx="0" fill="#c9cde9" stroke="#141414" stroke-width="1.25"/>
<line x1="515.90" y1="225.40" x2="532.70" y2="225.40" stroke="#222" stroke-width="0.9" />
<line x1="515.90" y1="232.60" x2="515.90" y2="283.70" stroke="#222" stroke-width="1.0" />
<line x1="532.70" y1="232.60" x2="532.70" y2="283.70" stroke="#222" stroke-width="1.0" />
<rect x="515.90" y="283.70" width="16.80" height="33.30" rx="0" fill="#c9cde9" stroke="#141414" stroke-width="1.25"/>
<line x1="515.90" y1="290.00" x2="532.70" y2="290.00" stroke="#222" stroke-width="0.9" />
<line x1="515.90" y1="294.60" x2="532.70" y2="294.60" stroke="#222" stroke-width="0.9" />
<line x1="515.90" y1="301.60" x2="532.70" y2="301.60" stroke="#222" stroke-width="1.6" />
<line x1="515.90" y1="308.00" x2="532.70" y2="308.00" stroke="#222" stroke-width="0.9" />
<line x1="512.00" y1="297.60" x2="537.00" y2="297.60" stroke="#333" stroke-width="0.6" />
<rect x="516.70" y="178.60" width="15.20" height="3.80" rx="1.5" fill="#c9cde9" stroke="#141414" stroke-width="1.0"/>
<rect x="516.70" y="195.80" width="15.20" height="3.40" rx="1.5" fill="#c9cde9" stroke="#141414" stroke-width="1.0"/>
<rect x="512" y="184.4" width="4.8" height="9.8" rx="1.2" fill="url(#hat)" stroke="#222" stroke-width="0.9"/>
<rect x="532.1" y="184.4" width="4.6" height="9.8" rx="1.2" fill="url(#hat)" stroke="#222" stroke-width="0.9"/>
<circle cx="524.20" cy="189.30" r="6.70" fill="#c9cde9" stroke="#141414" stroke-width="1.1" />
<rect x="516.70" y="316.60" width="15.20" height="3.40" rx="1.5" fill="#c9cde9" stroke="#141414" stroke-width="1.0"/>
<rect x="516.70" y="333.20" width="15.20" height="4.30" rx="1.5" fill="#c9cde9" stroke="#141414" stroke-width="1.0"/>
<rect x="512" y="321.3" width="4.8" height="9.8" rx="1.2" fill="url(#hat)" stroke="#222" stroke-width="0.9"/>
<rect x="532.1" y="321.3" width="4.6" height="9.8" rx="1.2" fill="url(#hat)" stroke="#222" stroke-width="0.9"/>
<circle cx="524.20" cy="326.20" r="6.90" fill="#c9cde9" stroke="#141414" stroke-width="1.1" />
<line x1="440.00" y1="257.75" x2="545.00" y2="257.75" stroke="#7a7a7a" stroke-width="1.1" stroke-dasharray="9 3"/>
<line x1="474.20" y1="275.30" x2="531.80" y2="275.30" stroke="#3c3c3c" stroke-width="0.8" marker-start="url(#ar)" marker-end="url(#ar)"/>
<text x="502.8" y="273" font-size="14.5" text-anchor="middle" fill="#111" stroke="#111" stroke-width="0.3" >N</text>
<line x1="497.30" y1="308.00" x2="515.90" y2="308.00" stroke="#3c3c3c" stroke-width="0.8"  marker-end="url(#ar)"/>
<line x1="559.60" y1="308.00" x2="532.70" y2="308.00" stroke="#3c3c3c" stroke-width="0.8"  marker-end="url(#ar)"/>
<text x="558.3" y="305.6" font-size="14.5" text-anchor="middle" fill="#111" stroke="#111" stroke-width="0.3" >O</text>
<line x1="636.80" y1="400.00" x2="636.80" y2="571.00" stroke="#3a3a3a" stroke-width="0.8" />
<line x1="625.40" y1="532.00" x2="625.40" y2="571.00" stroke="#3a3a3a" stroke-width="0.8" />
<rect x="603.3" y="403.7" width="33.5" height="35.8" fill="#c9cde9"/>
<line x1="603.30" y1="403.70" x2="603.30" y2="439.50" stroke="#222" stroke-width="1.3" />
<line x1="636.80" y1="403.70" x2="636.80" y2="439.50" stroke="#222" stroke-width="1.3" />
<line x1="603.30" y1="412.10" x2="636.80" y2="412.10" stroke="#222" stroke-width="1.4" />
<rect x="603.80" y="439.50" width="31.50" height="7.60" rx="2.5" fill="#c9cde9" stroke="#141414" stroke-width="1.2"/>
<rect x="595.4" y="450.1" width="9.1" height="20.6" rx="2" fill="url(#hat)" stroke="#222" stroke-width="1.1"/>
<rect x="636.5" y="450.1" width="7.1" height="20.6" rx="2" fill="url(#hat)" stroke="#222" stroke-width="1.1"/>
<circle cx="619.30" cy="460.80" r="15.00" fill="#c9cde9" stroke="#141414" stroke-width="1.2" />
<rect x="603.80" y="474.50" width="32.20" height="7.60" rx="2.5" fill="#c9cde9" stroke="#141414" stroke-width="1.2"/>
<polygon points="572.10,482.30 638.30,482.30 638.30,498.90 625.40,498.90 625.40,528.60 572.10,528.60" fill="#c9cde9" stroke="#141414" stroke-width="1.2" stroke-linejoin="round"/>
<line x1="572.10" y1="486.20" x2="636.00" y2="486.20" stroke="#222" stroke-width="1.0" />
<path d="M572.1,492.3 L591.5,492.3 L592.6,488 L608,488 M592.6,488 L596,484.5" fill="none" stroke="#222" stroke-width="0.9"/>
<rect x="572.1" y="508.8" width="42" height="10.6" fill="#d0d3ec" stroke="none"/>
<line x1="572.10" y1="509.20" x2="614.00" y2="509.20" stroke="#111" stroke-width="1.6" />
<line x1="572.10" y1="519.00" x2="614.00" y2="519.00" stroke="#111" stroke-width="1.6" />
<line x1="591.50" y1="509.20" x2="591.50" y2="519.00" stroke="#222" stroke-width="0.8" />
<rect x="614.00" y="503.40" width="10.60" height="21.40" rx="0" fill="#c9cde9" stroke="#141414" stroke-width="1.1"/>
<line x1="572.00" y1="514.10" x2="630.00" y2="514.10" stroke="#333" stroke-width="0.5" />
<line x1="602.50" y1="562.80" x2="625.40" y2="562.80" stroke="#3c3c3c" stroke-width="0.8"  marker-end="url(#ar)"/>
<line x1="656.60" y1="562.80" x2="636.80" y2="562.80" stroke="#3c3c3c" stroke-width="0.8"  marker-end="url(#ar)"/>
<text x="609.3" y="558.3" font-size="14.5" text-anchor="middle" fill="#111" stroke="#111" stroke-width="0.3" >M</text>
</svg>
</body></html>
